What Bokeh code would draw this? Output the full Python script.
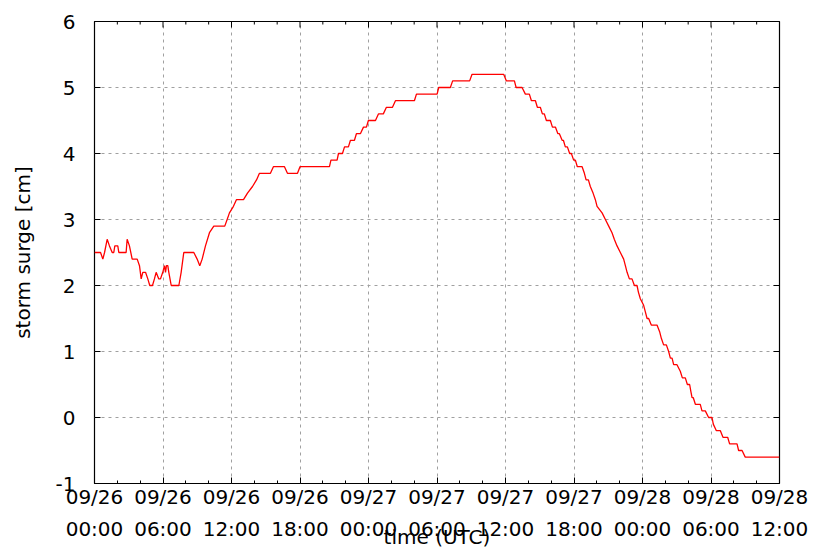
import math
from bokeh.plotting import figure
from bokeh.models import FixedTicker, Range1d
from bokeh.embed import file_html
from bokeh.resources import INLINE

# hours since 09/26 00:00 UTC
t_hours = [0.0, 0.53, 0.73, 0.88, 1.11, 1.31, 1.55, 1.69, 1.78, 2.04, 2.13, 2.77, 2.86, 3.06,
           3.3, 3.74, 3.94, 4.09, 4.23, 4.47, 4.67, 4.84, 5.08, 5.25, 5.4, 5.63, 5.78, 5.98,
           6.13, 6.22, 6.3, 6.42, 6.51, 6.72, 7.39, 7.59, 7.82, 8.7, 8.99, 9.22, 9.43, 9.72,
           10.07, 10.45, 11.41, 11.62, 11.82, 12.17, 12.43, 13.05, 13.4, 13.84, 14.19, 14.45,
           15.41, 15.67, 16.64, 16.9, 17.78, 18.0, 20.58, 20.71, 21.25, 21.37, 21.72, 21.9,
           22.24, 22.42, 22.77, 22.94, 23.29, 23.56, 23.82, 23.99, 24.61, 24.87, 25.3, 25.57,
           26.1, 26.36, 28.02, 28.2, 30.01, 30.15, 31.17, 31.37, 32.86, 33.07, 35.84, 36.08,
           36.78, 36.93, 37.45, 37.74, 38.09, 38.27, 38.62, 38.79, 39.05, 39.23, 39.4, 39.58,
           39.93, 40.11, 40.37, 40.59, 40.72, 40.96, 41.07, 41.24, 41.42, 41.62, 41.77, 41.97,
           42.12, 42.29, 42.71, 42.91, 43.06, 43.26, 43.43, 43.67, 43.87, 44.02, 44.46, 44.75,
           45.04, 45.33, 45.53, 45.77, 46.06, 46.35, 46.5, 46.65, 46.85, 47.08, 47.29, 47.52,
           47.64, 47.81, 48.1, 48.25, 48.4, 48.54, 48.77, 49.27, 49.5, 49.65, 49.85, 50.09,
           50.29, 50.44, 50.59, 50.73, 51.02, 51.31, 51.49, 51.75, 51.93, 52.13, 52.23, 52.34,
           52.45, 52.63, 53.06, 53.21, 53.5, 53.79, 54.09, 54.2, 54.47, 54.82, 55.05, 55.46,
           55.63, 56.28, 56.42, 56.72, 57.0, 60.0]
surge_cm = [2.5, 2.5, 2.4, 2.5, 2.7, 2.6, 2.5, 2.5, 2.6, 2.6, 2.5, 2.5, 2.7, 2.6,
            2.4, 2.4, 2.3, 2.1, 2.2, 2.2, 2.1, 2.0, 2.0, 2.1, 2.2, 2.1, 2.1, 2.2,
            2.3, 2.2, 2.3, 2.3, 2.2, 2.0, 2.0, 2.2, 2.5, 2.5, 2.4, 2.3, 2.4, 2.6,
            2.8, 2.9, 2.9, 3.0, 3.1, 3.2, 3.3, 3.3, 3.4, 3.5, 3.6, 3.7,
            3.7, 3.8, 3.8, 3.7, 3.7, 3.8, 3.8, 3.9, 3.9, 4.0, 4.0, 4.1,
            4.1, 4.2, 4.2, 4.3, 4.3, 4.4, 4.4, 4.5, 4.5, 4.6, 4.6, 4.7,
            4.7, 4.8, 4.8, 4.9, 4.9, 5.0, 5.0, 5.1, 5.1, 5.2, 5.2, 5.1,
            5.1, 5.0, 5.0, 4.9, 4.9, 4.8, 4.8, 4.7, 4.7, 4.6, 4.6, 4.5,
            4.5, 4.4, 4.4, 4.3, 4.3, 4.2, 4.2, 4.1, 4.1, 4.0, 4.0, 3.9,
            3.9, 3.8, 3.8, 3.7, 3.6, 3.6, 3.5, 3.4, 3.3, 3.2, 3.1, 3.0,
            2.9, 2.8, 2.7, 2.6, 2.5, 2.4, 2.3, 2.2, 2.1, 2.1, 2.0, 2.0,
            1.9, 1.8, 1.7, 1.6, 1.5, 1.5, 1.4, 1.4, 1.3, 1.2, 1.1, 1.1,
            1.0, 0.9, 0.9, 0.8, 0.8, 0.7, 0.6, 0.6, 0.5, 0.5, 0.4, 0.3,
            0.3, 0.2, 0.2, 0.1, 0.1, 0.0, 0.0, -0.1, -0.2, -0.2, -0.3, -0.3,
            -0.4, -0.4, -0.5, -0.5, -0.6, -0.6]

x_ticks = [0, 6, 12, 18, 24, 30, 36, 42, 48, 54, 60]
x_tick_labels = ["09/26\n00:00", "09/26\n06:00", "09/26\n12:00", "09/26\n18:00",
                 "09/27\n00:00", "09/27\n06:00", "09/27\n12:00", "09/27\n18:00",
                 "09/28\n00:00", "09/28\n06:00", "09/28\n12:00"]
x_minor = [2, 4, 8, 10, 14, 16, 20, 22, 26, 28, 32, 34, 38, 40, 44, 46, 50, 52, 56, 58]
y_ticks = [-1, 0, 1, 2, 3, 4, 5, 6]
y_tick_labels = ["-1", "0", "1", "2", "3", "4", "5", "6"]

FONT = "DejaVu Sans"
X0, X1, Y0, Y1 = 0, 60, -1, 6

p = figure(width=813, height=553, output_backend="svg", toolbar_location=None,
           x_range=Range1d(X0, X1), y_range=Range1d(Y0, Y1),
           min_border_left=94, min_border_right=34, min_border_top=21, min_border_bottom=70)
p.outline_line_color = "black"
p.outline_line_width = 1.2
p.background_fill_color = "white"
p.border_fill_color = "white"

# grid
xt = FixedTicker(ticks=x_ticks, minor_ticks=x_minor)
yt = FixedTicker(ticks=y_ticks, minor_ticks=[])
p.xgrid.ticker = xt
p.ygrid.ticker = yt
p.grid.grid_line_color = "#a0a0a0"
p.grid.grid_line_dash = "3 4"
p.grid.grid_line_width = 1

p.line(t_hours, surge_cm, line_color="red", line_width=1.3)

# mirrored inward ticks on top and right (clipped at the frame, so only the inner half shows)
p.scatter(x_ticks, [Y1] * len(x_ticks), marker="dash", size=12, angle=math.pi / 2,
          line_color="black", line_width=1)
p.scatter(x_minor, [Y1] * len(x_minor), marker="dash", size=6, angle=math.pi / 2,
          line_color="black", line_width=1)
p.scatter([X1] * len(y_ticks), y_ticks, marker="dash", size=12,
          line_color="black", line_width=1)

def style_axis(ax, ticker, labels):
    ax.ticker = ticker
    ax.axis_line_color = None
    ax.major_tick_in = 6
    ax.major_tick_out = 0
    ax.minor_tick_in = 3
    ax.minor_tick_out = 0
    ax.major_tick_line_color = "black"
    ax.minor_tick_line_color = "black"
    ax.major_label_text_font = FONT
    ax.major_label_text_font_size = "20px"
    ax.major_label_text_color = "black"
    ax.major_label_overrides = labels

xa = p.xaxis[0]
style_axis(xa, xt, {t: l for t, l in zip(x_ticks, x_tick_labels)})
xa.major_label_standoff = 1
xa.major_label_text_line_height = 1.35
xa.axis_label = "time (UTC)"
xa.axis_label_text_font = FONT
xa.axis_label_text_font_size = "20px"
xa.axis_label_text_font_style = "normal"
xa.axis_label_text_color = "black"
xa.axis_label_standoff = -19

ya = p.yaxis[0]
style_axis(ya, yt, {t: l for t, l in zip(y_ticks, y_tick_labels)})
ya.major_label_standoff = 19
ya.axis_label = "storm surge [cm]"
ya.axis_label_text_font = FONT
ya.axis_label_text_font_size = "20px"
ya.axis_label_text_font_style = "normal"
ya.axis_label_text_color = "black"
ya.axis_label_standoff = 18

open("out.html", "w").write(file_html(p, INLINE))
